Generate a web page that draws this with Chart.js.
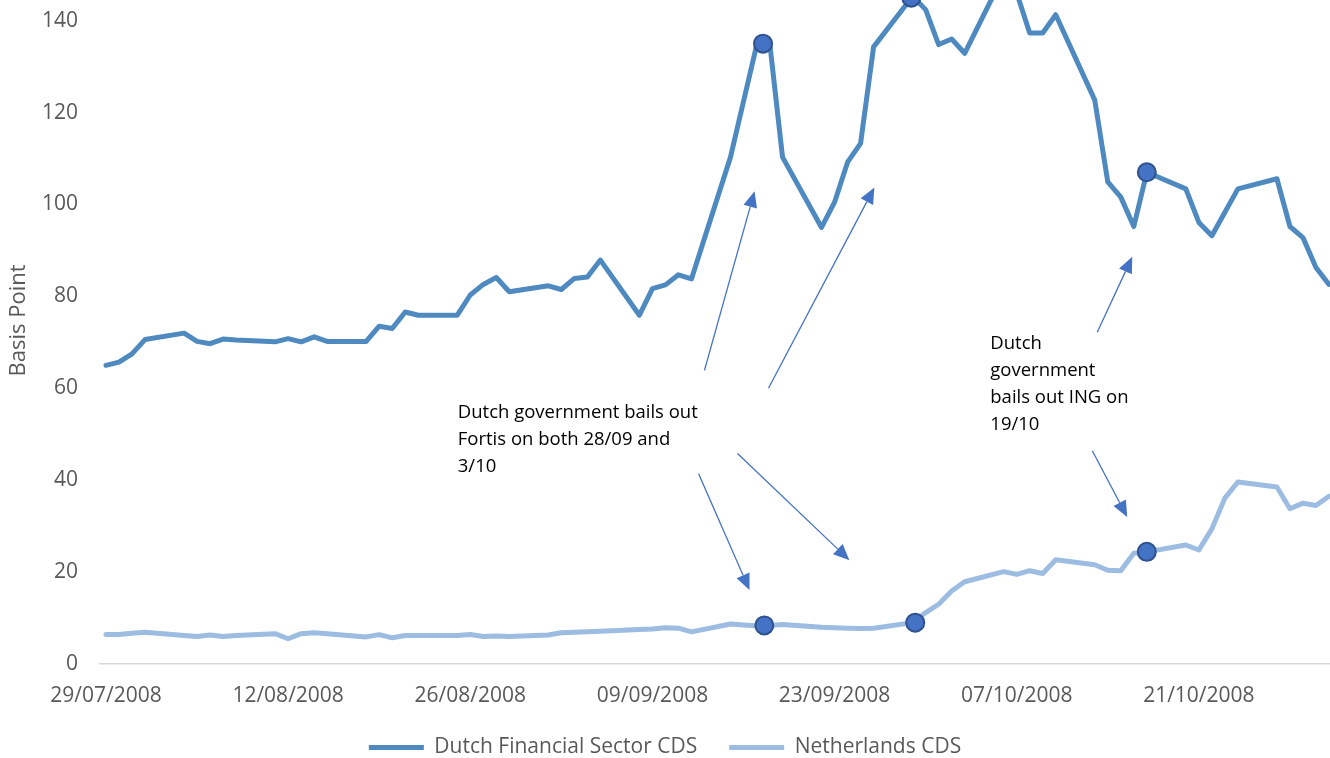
<!DOCTYPE html>
<html>
<head>
<meta charset="utf-8">
<title>Dutch CDS spreads, 2008</title>
<script src="https://cdn.jsdelivr.net/npm/chart.js@4.4.1/dist/chart.umd.min.js"></script>
<style>
  html, body { margin: 0; padding: 0; background: #fff; }
  #wrap { position: relative; width: 1330px; height: 758px; overflow: hidden; }
  #cds-chart { position: absolute; left: 0; top: -23px; }
</style>
</head>
<body>
<div id="wrap"><canvas id="cds-chart" width="1330" height="800"></canvas></div>
<script>
// trading days (dd/mm, 2008)
const dates = ['29/07','30/07','31/07','01/08','04/08','05/08','06/08','07/08','08/08',
  '11/08','12/08','13/08','14/08','15/08','18/08','19/08','20/08','21/08','22/08',
  '25/08','26/08','27/08','28/08','29/08','01/09','02/09','03/09','04/09','05/09',
  '08/09','09/09','10/09','11/09','12/09','15/09','16/09','17/09','18/09','19/09',
  '22/09','23/09','24/09','25/09','26/09','29/09','30/09','01/10','02/10','03/10',
  '06/10','07/10','08/10','09/10','10/10','13/10','14/10','15/10','16/10','17/10',
  '20/10','21/10','22/10','23/10','24/10','27/10','28/10','29/10','30/10','31/10'];

// 5y CDS spreads in basis points
const financialCds = [65.0, 65.7, 67.5, 70.6, 72.0, 70.2, 69.7, 70.7, 70.5,
  70.1, 70.8, 70.1, 71.2, 70.2, 70.2, 73.5, 73.0, 76.6, 75.9,
  75.9, 80.3, 82.6, 84.1, 81.0, 82.3, 81.5, 83.9, 84.2, 87.9,
  75.9, 81.7, 82.5, 84.7, 83.8, 110.3, 122.4, 134.5, 135.5, 110.3,
  95.0, 100.5, 109.2, 113.3, 134.3, 145.3, 142.4, 134.8, 136.0, 132.9,
  150.0, 146.0, 137.3, 137.3, 141.3, 122.7, 104.9, 101.6, 95.2, 107.0,
  103.4, 96.1, 93.2, 98.3, 103.4, 105.6, 95.2, 92.8, 86.3, 82.6];

const netherlandsCds = [6.4, 6.4, 6.7, 6.9, 6.2, 6.0, 6.3, 6.0, 6.2,
  6.6, 5.5, 6.6, 6.8, 6.6, 5.9, 6.4, 5.7, 6.2, 6.2,
  6.2, 6.4, 6.0, 6.1, 6.0, 6.3, 6.8, 6.9, 7.0, 7.1,
  7.5, 7.6, 7.9, 7.8, 7.0, 8.7, 8.5, 8.3, 8.4, 8.6,
  8.0, 7.9, 7.8, 7.7, 7.8, 9.0, 11.2, 13.0, 15.9, 17.9,
  20.1, 19.5, 20.3, 19.7, 22.7, 21.6, 20.4, 20.3, 24.1, 24.4,
  25.9, 24.8, 29.4, 36.1, 39.6, 38.5, 33.8, 35.0, 34.5, 36.5];

const xTickLabels = ['29/07/2008', '12/08/2008', '26/08/2008', '09/09/2008',
  '23/09/2008', '07/10/2008', '21/10/2008'];
const yTicks = [0, 20, 40, 60, 80, 100, 120, 140];

// bail-out event markers (days after 29/07, basis points)
const financialMarkDays = [50.5, 61.9, 80.0];
const financialMarkValues = [135.0, 145.0, 107.0];
const netherlandsMarkDays = [50.6, 62.2, 80.0];
const netherlandsMarkValues = [8.4, 9.0, 24.4];

const noteFortis = ['Dutch government bails out', 'Fortis on both 28/09 and', '3/10'];
const noteIng = ['Dutch', 'government', 'bails out ING on', '19/10'];

// days counted from the first trading day
const START = Date.UTC(2008, 6, 29);
function dayOf(label) {
  const p = label.split('/').map(Number);
  return (Date.UTC(2008, p[1] - 1, p[0]) - START) / 86400000;
}

const tickDays = xTickLabels.map(dayOf);

// arrow start / end in axis units
const arrows = [
  [46.0, 63.9, 49.85, 102.9],
  [50.92, 60.0, 59.06, 103.7],
  [45.55, 41.4, 49.46, 16.1],
  [48.54, 45.8, 57.14, 22.6],
  [76.19, 72.2, 78.88, 88.6],
  [75.81, 46.4, 78.49, 32.0]
];

const textGrey = '#595959';
const fontFamily = "'Open Sans', sans-serif";

const notesPlugin = {
  id: 'bailoutNotes',
  afterDatasetsDraw(chart) {
    const ctx = chart.ctx;
    const xs = chart.scales.x, ys = chart.scales.y;
    ctx.save();
    ctx.strokeStyle = '#4472C4';
    ctx.fillStyle = '#4472C4';
    ctx.lineWidth = 1.3;
    arrows.forEach(function(a) {
      const x0 = xs.getPixelForValue(a[0]), y0 = ys.getPixelForValue(a[1]);
      const x1 = xs.getPixelForValue(a[2]), y1 = ys.getPixelForValue(a[3]);
      const ang = Math.atan2(y1 - y0, x1 - x0);
      const len = 16, half = 7;
      const bx = x1 - len * Math.cos(ang), by = y1 - len * Math.sin(ang);
      ctx.beginPath();
      ctx.moveTo(x0, y0);
      ctx.lineTo(bx, by);
      ctx.stroke();
      ctx.beginPath();
      ctx.moveTo(x1, y1);
      ctx.lineTo(bx + half * Math.sin(ang), by - half * Math.cos(ang));
      ctx.lineTo(bx - half * Math.sin(ang), by + half * Math.cos(ang));
      ctx.closePath();
      ctx.fill();
    });

    ctx.fillStyle = '#000';
    ctx.font = '18.5px ' + fontFamily;
    ctx.textBaseline = 'middle';
    ctx.textAlign = 'left';
    const drawNote = function(lines, day, value) {
      const tx = xs.getPixelForValue(day), ty = ys.getPixelForValue(value);
      lines.forEach(function(line, i) { ctx.fillText(line, tx, ty + i * 27); });
    };
    drawNote(noteFortis, 27.04, 54.75);
    drawNote(noteIng, 67.97, 69.6);
    ctx.restore();
  }
};

const ctx = document.getElementById('cds-chart').getContext('2d');

new Chart(ctx, {
  type: 'line',
  data: {
    datasets: [
      {
        label: 'Dutch Financial Sector CDS',
        data: dates.map((d, i) => ({ x: dayOf(d), y: financialCds[i] })),
        borderColor: '#4E8AC0',
        backgroundColor: '#4E8AC0',
        borderWidth: 5,
        borderCapStyle: 'round',
        borderJoinStyle: 'round',
        pointRadius: 0,
        order: 1
      },
      {
        label: 'Netherlands CDS',
        data: dates.map((d, i) => ({ x: dayOf(d), y: netherlandsCds[i] })),
        borderColor: '#9CBCE2',
        backgroundColor: '#9CBCE2',
        borderWidth: 5,
        borderCapStyle: 'round',
        borderJoinStyle: 'round',
        pointRadius: 0,
        order: 1
      },
      {
        label: 'events',
        type: 'scatter',
        data: financialMarkDays.map((d, i) => ({ x: d, y: financialMarkValues[i] }))
          .concat(netherlandsMarkDays.map((d, i) => ({ x: d, y: netherlandsMarkValues[i] }))),
        pointRadius: 9,
        pointBackgroundColor: '#4472C4',
        pointBorderColor: '#2F528F',
        pointBorderWidth: 2,
        order: 0
      }
    ]
  },
  options: {
    responsive: false,
    animation: false,
    events: [],
    layout: { autoPadding: false, padding: { left: 0, right: 0, top: 0, bottom: 9 } },
    plugins: {
      tooltip: { enabled: false },
      legend: {
        position: 'bottom',
        labels: {
          filter: item => item.datasetIndex < 2,
          usePointStyle: true,
          pointStyle: 'line',
          pointStyleWidth: 55,
          color: textGrey,
          padding: 32,
          font: { family: fontFamily, size: 21 }
        }
      }
    },
    scales: {
      x: {
        type: 'linear',
        min: -0.46,
        max: 94.08,
        grid: { display: false, drawTicks: false },
        border: { display: true, color: '#D9D9D9', width: 1.5 },
        afterBuildTicks: scale => { scale.ticks = tickDays.map(v => ({ value: v })); },
        afterFit: scale => { scale.height = 41; },
        ticks: {
          autoSkip: false,
          maxRotation: 0,
          padding: 19,
          color: textGrey,
          font: { family: fontFamily, size: 21 },
          callback: value => xTickLabels[tickDays.indexOf(value)]
        }
      },
      y: {
        min: 0,
        max: 149.5,
        grid: { display: false, drawTicks: false },
        border: { display: false },
        afterBuildTicks: scale => { scale.ticks = yTicks.map(v => ({ value: v })); },
        afterFit: scale => {
          scale.width = 100;
          // plot area runs right up to the top edge
          scale.paddingTop = 0;
          scale.paddingBottom = 0;
        },
        ticks: {
          padding: 22,
          color: textGrey,
          font: { family: fontFamily, size: 21 }
        },
        title: {
          display: true,
          text: 'Basis Point',
          color: textGrey,
          font: { family: fontFamily, size: 22 },
          padding: { top: 6, bottom: 4 }
        }
      }
    }
  },
  plugins: [notesPlugin]
});
</script>
</body>
</html>
